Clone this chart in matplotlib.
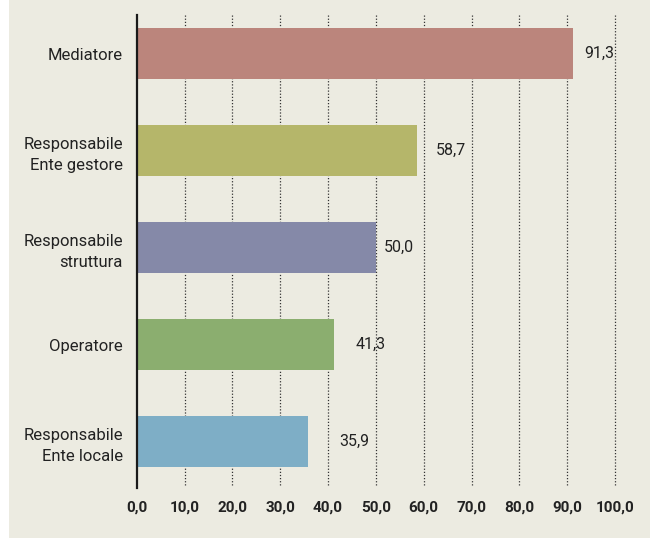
import matplotlib.pyplot as plt
import numpy as np

categories = ["Mediatore", "Responsabile\nEnte gestore", "Responsabile\nstruttura",
              "Operatore", "Responsabile\nEnte locale"]
values = [91.3, 58.7, 50.0, 41.3, 35.9]
value_labels = ["91,3", "58,7", "50,0", "41,3", "35,9"]
ticks = [0, 10, 20, 30, 40, 50, 60, 70, 80, 90, 100]
tick_labels = ["0,0", "10,0", "20,0", "30,0", "40,0", "50,0", "60,0", "70,0", "80,0", "90,0", "100,0"]

colors = ["#bb857c", "#b5b66a", "#8589a8", "#8bae6f", "#7eaec6"]
label_dx = [8, 13, 6, 15, 22]  # offsets in points, as in the original

plt.rcParams['font.family'] = ['Roboto', 'DejaVu Sans']

bg = "#ecebe1"
fig = plt.figure(figsize=(6.5, 5.38), dpi=100, facecolor="white")
fig.patches.append(plt.Rectangle((9 / 650, 0), 1, 1, transform=fig.transFigure,
                                 facecolor=bg, edgecolor="none", zorder=-10))
ax = fig.add_axes([136.7 / 650, 50 / 538, (615 - 136.7) / 650, 473 / 538])
ax.set_facecolor(bg)
ax.patch.set_alpha(0)

y = np.arange(len(categories))
ax.barh(y, values, height=0.53, color=colors, zorder=3)

for xt in ticks[1:]:
    ax.axvline(xt, ymin=0.006, color="#333333", linestyle=(0, (1, 1.5)), linewidth=0.9,
               zorder=1, clip_on=False)

for i, (v, lab) in enumerate(zip(values, value_labels)):
    ax.annotate(lab, (v, i), xytext=(label_dx[i], 0), textcoords="offset points",
                va="center", ha="left", fontsize=11.5, color="#222222", zorder=4)

ax.set_xlim(0, 100)
ax.set_ylim(4.48, -0.4)
ax.set_yticks(y)
ax.set_yticklabels(categories, fontsize=12, color="#222222", linespacing=1.5)
ax.set_xticks(ticks)
ax.set_xticklabels(tick_labels, fontsize=11, fontweight="bold", color="#222222")
ax.tick_params(axis="y", length=0, pad=10)
ax.tick_params(axis="x", length=0, pad=9)

for s in ["top", "right", "bottom"]:
    ax.spines[s].set_visible(False)
ax.spines["left"].set_linewidth(1.6)
ax.spines["left"].set_color("#1a1a1a")
ax.spines["left"].set_zorder(5)

fig.savefig("out.png", dpi=100, facecolor="white")
